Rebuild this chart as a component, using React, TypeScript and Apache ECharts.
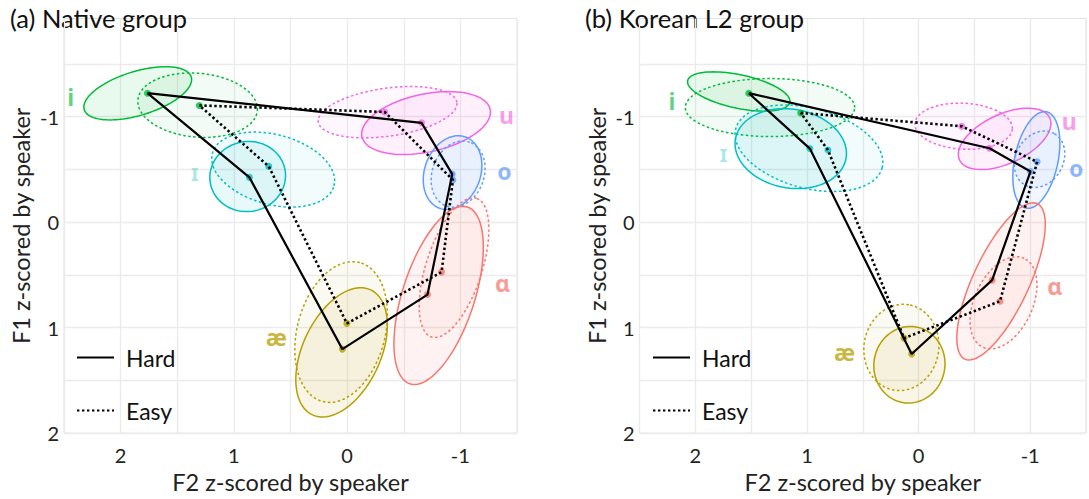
import React, { useEffect, useRef } from "react";
import * as echarts from "echarts";

// ---- categories ----
const VOWELS = ["i", "ɪ", "u", "o", "ɑ", "æ"];
const VOWEL_COLORS = ["#00BA38", "#00BFC4", "#F564E3", "#619CFF", "#F8766D", "#B79F00"];
const LABEL_OPACITY = [0.8, 0.45, 0.8, 0.9, 0.9, 0.95];
// polygon order through the vowel means (indices into VOWELS)
const PATH_ORDER = [0, 2, 3, 4, 5, 1, 0];

// ---- tick labels ----
const F2_TICKS = [2, 1, 0, -1];
const F1_TICKS = [-1, 0, 1, 2];

// ---- vowel means (F2, F1) ----
const nativeHardF2 = [1.763, 0.863, -0.657, -0.928, -0.71, 0.042];
const nativeHardF1 = [-1.222, -0.424, -0.941, -0.455, 0.687, 1.204];
const nativeEasyF2 = [1.305, 0.692, -0.332, -0.934, -0.834, 0.002];
const nativeEasyF1 = [-1.106, -0.528, -1.044, -0.4, 0.474, 0.96];
const koreanHardF2 = [1.521, 0.974, -0.635, -1.003, -0.659, 0.062];
const koreanHardF1 = [-1.222, -0.697, -0.7, -0.48, 0.55, 1.25];
const koreanEasyF2 = [1.056, 0.812, -0.386, -1.062, -0.73, 0.13];
const koreanEasyF1 = [-1.035, -0.684, -0.909, -0.571, 0.75, 1.1];

// ---- ellipses: [centre F2, centre F1, semi-axis a, semi-axis b, tilt deg] ----
const nativeHardEllipses = [
  [1.849, -1.221, 0.494, 0.194, 17],
  [0.878, -0.432, 0.335, 0.309, 10],
  [-0.697, -0.939, 0.579, 0.256, 12],
  [-0.931, -0.469, 0.335, 0.247, 70],
  [-0.808, 0.695, 0.821, 0.318, 72],
  [0.049, 1.235, 0.609, 0.344, 65],
];
const nativeEasyEllipses = [
  [1.32, -1.108, 0.53, 0.282, -5],
  [0.653, -0.498, 0.556, 0.309, -15],
  [-0.357, -1.042, 0.618, 0.212, 8],
  [-0.98, -0.455, 0.3, 0.229, 70],
  [-0.944, 0.432, 0.644, 0.247, 72],
  [0.053, 1.042, 0.635, 0.388, 75],
];
const koreanHardEllipses = [
  [1.611, -1.238, 0.468, 0.15, -12],
  [1.145, -0.697, 0.503, 0.353, -10],
  [-0.771, -0.789, 0.446, 0.221, 25],
  [-1.055, -0.589, 0.441, 0.194, 78],
  [-0.739, 0.562, 0.768, 0.251, 65],
  [0.082, 1.352, 0.344, 0.318, 80],
];
const koreanEasyEllipses = [
  [1.331, -1.086, 0.759, 0.26, 0],
  [0.982, -0.7, 0.679, 0.358, -15],
  [-0.404, -0.909, 0.437, 0.206, -3],
  [-1.084, -0.596, 0.265, 0.212, 60],
  [-0.761, 0.765, 0.439, 0.26, 65],
  [0.154, 1.188, 0.388, 0.335, 80],
];

// ---- vowel label positions ----
const nativeLabelF2 = [2.44, 1.346, -1.408, -1.39, -1.37, 0.625];
const nativeLabelF1 = [-1.188, -0.474, -1.019, -0.484, 0.577, 1.09];
const koreanLabelF2 = [2.209, 1.748, -1.349, -1.412, -1.218, 0.662];
const koreanLabelF1 = [-1.144, -0.659, -0.955, -0.512, 0.606, 1.235];

const GRID_LINES_F1 = [-1.5, -1, -0.5, 0, 0.5, 1, 1.5, 2];

const FONT = 'Lato, "Noto Sans", sans-serif';
const LABEL_FONT = '"Noto Sans", "DejaVu Sans", sans-serif';
const GRID_COLOR = "#ebebeb";

function rgba(hex: string, a: number) {
  const n = parseInt(hex.slice(1), 16);
  return `rgba(${(n >> 16) & 255},${(n >> 8) & 255},${n & 255},${a})`;
}

function isTick(v: number, ticks: number[]) {
  return ticks.some((t) => Math.abs(t - v) < 1e-6);
}

function buildPanel(
  gi: number,
  hardF2: number[],
  hardF1: number[],
  easyF2: number[],
  easyF1: number[],
  hardEll: number[][],
  easyEll: number[][],
  labF2: number[],
  labF1: number[]
) {
  const axis = { xAxisIndex: gi, yAxisIndex: gi };
  const ellData: any[] = [];
  VOWELS.forEach((_, i) => {
    ellData.push([...hardEll[i], i, 0]);
    ellData.push([...easyEll[i], i, 1]);
  });
  const series: any[] = [
    {
      type: "scatter",
      ...axis,
      data: [[0, 0]],
      symbolSize: 0,
      silent: true,
      z: 0,
      markLine: {
        silent: true,
        symbol: ["none", "none"],
        label: { show: false },
        lineStyle: { color: GRID_COLOR, type: "solid", width: 1.3 },
        data: GRID_LINES_F1.map((v) => ({ yAxis: v })),
        z: 0,
      },
    },
    {
      type: "custom",
      ...axis,
      z: 2,
      silent: true,
      encode: { x: 0, y: 1 },
      data: ellData,
      renderItem: (params: any, api: any) => {
        const cx = api.value(0);
        const cy = api.value(1);
        const a = api.value(2);
        const b = api.value(3);
        const ang = (api.value(4) * Math.PI) / 180;
        const vi = api.value(5);
        const easy = api.value(6) === 1;
        const c = api.coord([cx, cy]);
        const sz = api.size([1, 1], [cx, cy]);
        const ux = Math.abs(sz[0]);
        const pts: number[][] = [];
        for (let k = 0; k < 90; k++) {
          const t = (k / 90) * Math.PI * 2;
          const ex = a * Math.cos(t);
          const ey = b * Math.sin(t);
          const rx = ex * Math.cos(ang) - ey * Math.sin(ang);
          const ry = ex * Math.sin(ang) + ey * Math.cos(ang);
          pts.push([c[0] + rx * ux, c[1] - ry * ux]);
        }
        const col = VOWEL_COLORS[vi];
        return {
          type: "polygon",
          shape: { points: pts },
          style: {
            fill: rgba(col, easy ? 0.05 : 0.09),
            stroke: col,
            lineWidth: 1.5,
            lineDash: easy ? [2.5, 2.5] : null,
          },
        };
      },
    },
    {
      type: "scatter",
      ...axis,
      z: 3,
      silent: true,
      symbolSize: 7,
      data: VOWELS.flatMap((v, i) => [
        { value: [hardF2[i], hardF1[i]], itemStyle: { color: VOWEL_COLORS[i] } },
        { value: [easyF2[i], easyF1[i]], itemStyle: { color: VOWEL_COLORS[i] } },
      ]),
    },
    {
      name: "Hard",
      type: "line",
      ...axis,
      z: 4,
      symbol: "none",
      silent: true,
      lineStyle: { color: "#000", width: 2.2 },
      itemStyle: { color: "#000" },
      data: PATH_ORDER.map((i) => [hardF2[i], hardF1[i]]),
    },
    {
      name: "Easy",
      type: "line",
      ...axis,
      z: 4,
      symbol: "none",
      silent: true,
      lineStyle: { color: "#000", width: 2.6, type: [2.4, 2.6] },
      itemStyle: { color: "#000" },
      data: PATH_ORDER.map((i) => [easyF2[i], easyF1[i]]),
    },
    {
      type: "scatter",
      ...axis,
      z: 5,
      silent: true,
      symbolSize: 0,
      data: VOWELS.map((v, i) => ({
        value: [labF2[i], labF1[i]],
        name: v,
        label: {
          show: true,
          position: "inside",
          formatter: v,
          color: rgba(VOWEL_COLORS[i], LABEL_OPACITY[i]),
          fontSize: 23,
          fontWeight: "bold",
          fontFamily: LABEL_FONT,
        },
      })),
    },
  ];
  return series;
}

export default function App() {
  const ref = useRef<HTMLDivElement>(null);
  useEffect(() => {
    if (!ref.current) return;
    const chart = echarts.init(ref.current, null, { renderer: "svg" });
    const grids = [
      { left: 64, top: 18.5, width: 453, height: 417.5 },
      { left: 639.5, top: 18.5, width: 453, height: 417.5 },
    ].map((g) => ({ ...g, show: true, borderColor: "#e3e3e3", borderWidth: 1, backgroundColor: "transparent" }));

    const xAxes = [0, 1].map((gi) => ({
      type: "value",
      gridIndex: gi,
      min: -1.5,
      max: 2.5,
      interval: 0.5,
      inverse: true,
      name: "F2 z-scored by speaker",
      nameLocation: "middle",
      nameGap: 36,
      nameTextStyle: { fontSize: 23.5, fontFamily: FONT, color: "#222" },
      axisLine: { show: false },
      axisTick: { show: false },
      axisLabel: {
        fontSize: 20,
        fontFamily: FONT,
        color: "#222",
        margin: 12,
        formatter: (v: number) => (isTick(v, F2_TICKS) ? String(Math.round(v)) : ""),
      },
      splitLine: { show: true, lineStyle: { color: GRID_COLOR, width: 1.3 } },
    }));
    const yAxes = [0, 1].map((gi) => ({
      type: "value",
      gridIndex: gi,
      min: -1.93,
      max: 2,
      inverse: true,
      name: "F1 z-scored by speaker",
      nameLocation: "middle",
      nameGap: 31,
      nameRotate: 90,
      nameTextStyle: { fontSize: 23.5, fontFamily: FONT, color: "#222" },
      axisLine: { show: false },
      axisTick: { show: false },
      axisLabel: {
        fontSize: 20,
        fontFamily: FONT,
        color: "#222",
        margin: 5,
        formatter: (v: number) => (isTick(v, F1_TICKS) ? String(Math.round(v)) : ""),
      },
      splitLine: { show: false },
    }));

    const legendBase = {
      data: ["Hard", "Easy"],
      orient: "vertical",
      top: 341,
      itemWidth: 37,
      itemHeight: 14,
      itemGap: 30,
      selectedMode: false,
      itemStyle: { color: "rgba(0,0,0,0)", opacity: 0, borderWidth: 0 },
      textStyle: { fontSize: 23, fontFamily: FONT, color: "#111", padding: [0, 0, 0, 7] },
    };

    const option: any = {
      animation: false,
      backgroundColor: "#fff",
      grid: grids,
      xAxis: xAxes,
      yAxis: yAxes,
      legend: [
        { ...legendBase, left: 71 },
        { ...legendBase, left: 647 },
      ],
      graphic: [
        {
          type: "text",
          left: 10,
          top: 5,
          style: { text: "(a) Native group", font: `25.5px ${FONT}`, fill: "#111" },
        },
        {
          type: "text",
          left: 585,
          top: 5,
          style: { text: "(b) Korean L2 group", font: `25.5px ${FONT}`, fill: "#111" },
        },
      ],
      series: [
        ...buildPanel(0, nativeHardF2, nativeHardF1, nativeEasyF2, nativeEasyF1, nativeHardEllipses, nativeEasyEllipses, nativeLabelF2, nativeLabelF1),
        ...buildPanel(1, koreanHardF2, koreanHardF1, koreanEasyF2, koreanEasyF1, koreanHardEllipses, koreanEasyEllipses, koreanLabelF2, koreanLabelF1),
      ],
    };
    chart.setOption(option);
    return () => chart.dispose();
  }, []);
  return (
    <div
      ref={ref}
      style={{ position: "absolute", left: 0, top: 0, width: 1089, height: 499, background: "#fff" }}
    />
  );
}
